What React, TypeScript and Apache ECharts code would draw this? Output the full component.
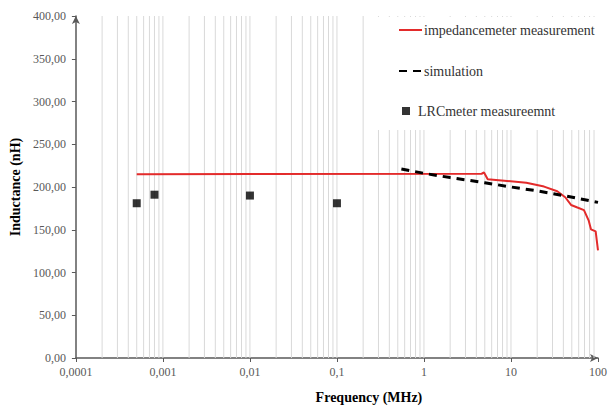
import React, { useEffect, useRef } from "react";
import * as echarts from "echarts";

const impFreq = [0.0005, 4.6, 4.9, 5.4, 9, 15, 24, 34, 42, 49, 58, 69, 78, 83, 94, 100];
const impValues = [215, 215.5, 217, 209, 207, 205, 200.5, 195, 188, 179, 176, 173, 161, 150.5, 148, 126];

const simFreq = [0.55, 1, 2, 5, 10, 20, 40, 60, 100];
const simValues = [221, 216, 211, 205, 200, 195.5, 190, 186.5, 182];

const lrcFreq = [0.0005, 0.0008, 0.01, 0.1];
const lrcValues = [181, 191, 190, 181];

const decades = [0.0001, 0.001, 0.01, 0.1, 1, 10];
const gridMultipliers = [1, 2, 3, 4, 5, 6, 7, 8, 9];

const NAME_IMP = "impedancemeter measurement";
const NAME_SIM = "simulation";
const NAME_LRC = "LRCmeter measureemnt";

const FONT = "'Liberation Serif', 'Times New Roman', serif";

function fmtX(v: number): string {
  const n = Number(v.toPrecision(6));
  return String(n).replace(".", ",");
}

export default function App() {
  const ref = useRef<HTMLDivElement>(null);
  useEffect(() => {
    if (!ref.current) return;
    const chart = echarts.init(ref.current, undefined, { renderer: "svg" });
    const gridFreqs: number[][] = [];
    decades.forEach((d) => {
      gridMultipliers.forEach((m) => {
        const v = Number((d * m).toPrecision(6));
        if (v > 0.0001 && v < 100) gridFreqs.push([v, 0]);
      });
    });
    chart.setOption({
      animation: false,
      backgroundColor: "#ffffff",
      grid: { left: 75, right: 9, top: 16, bottom: 52, containLabel: false },
      xAxis: {
        type: "log",
        logBase: 10,
        min: 0.0001,
        max: 100,
        name: "Frequency (MHz)",
        nameLocation: "middle",
        nameGap: 32,
        nameTextStyle: {
          fontFamily: FONT,
          fontWeight: "bold",
          fontSize: 14,
          color: "#000",
          padding: [0, 0, 0, 64],
        },
        axisLine: {
          show: true,
          lineStyle: { color: "#595959", width: 1.5 },
          symbol: ["none", "arrow"],
          symbolSize: [6, 8],
        },
        axisTick: { show: true, length: 4, lineStyle: { color: "#595959" } },
        axisLabel: {
          fontFamily: FONT,
          fontSize: 12,
          color: "#595959",
          margin: 8,
          formatter: (v: number) => fmtX(v),
        },
        splitLine: { show: false },
        minorTick: { show: false },
      },
      yAxis: {
        type: "value",
        min: 0,
        max: 400,
        interval: 50,
        name: "Inductance (nH)",
        nameLocation: "middle",
        nameGap: 52,
        nameTextStyle: {
          fontFamily: FONT,
          fontWeight: "bold",
          fontSize: 14,
          color: "#000",
        },
        axisLine: {
          show: true,
          lineStyle: { color: "#595959", width: 1.5 },
          symbol: ["none", "arrow"],
          symbolSize: [6, 8],
        },
        axisTick: { show: true, length: 4, lineStyle: { color: "#595959" } },
        axisLabel: {
          fontFamily: FONT,
          fontSize: 12,
          color: "#595959",
          margin: 10,
          formatter: (v: number) => v.toFixed(2).replace(".", ","),
        },
        splitLine: { show: false },
      },
      graphic: [
        {
          type: "rect",
          z: 3,
          shape: { x: 370, y: 17, width: 240, height: 113 },
          style: { fill: "#ffffff" },
          silent: true,
        },
      ],
      legend: [
        {
          z: 10,
          orient: "vertical",
          left: 393,
          top: 18,
          itemWidth: 23,
          itemHeight: 14,
          itemGap: 27,
          itemStyle: { opacity: 0 },
          data: [NAME_IMP, NAME_SIM],
          textStyle: { fontFamily: FONT, fontSize: 14, color: "#333333", padding: [0, 0, 0, -3] },
        },
        {
          z: 10,
          orient: "vertical",
          left: 397,
          top: 99,
          itemWidth: 8,
          itemHeight: 8,
          data: [NAME_LRC],
          textStyle: { fontFamily: FONT, fontSize: 14, color: "#333333", padding: [0, 0, 0, 3] },
        },
      ],
      series: [
        {
          name: "grid",
          type: "custom",
          z: 1,
          silent: true,
          clip: true,
          data: gridFreqs,
          renderItem: (_params: any, api: any) => {
            const v = api.value(0);
            const p1 = api.coord([v, 0]);
            const p2 = api.coord([v, 400]);
            return {
              type: "line",
              shape: { x1: p1[0], y1: p1[1], x2: p2[0], y2: p2[1] },
              style: { stroke: "#d9d9d9", lineWidth: 1 },
            };
          },
        },
        {
          name: NAME_IMP,
          type: "line",
          z: 5,
          symbol: "none",
          showSymbol: false,
          lineStyle: { color: "#e32b2b", width: 2 },
          itemStyle: { color: "#e32b2b" },
          data: impFreq.map((f, i) => [f, impValues[i]]),
        },
        {
          name: NAME_SIM,
          type: "line",
          z: 5,
          symbol: "none",
          showSymbol: false,
          lineStyle: { color: "#000000", width: 3, type: [8, 6] },
          itemStyle: { color: "#000000" },
          data: simFreq.map((f, i) => [f, simValues[i]]),
        },
        {
          name: NAME_LRC,
          type: "scatter",
          z: 6,
          symbol: "rect",
          symbolSize: 8,
          itemStyle: { color: "#000000" },
          data: lrcFreq.map((f, i) => [f, lrcValues[i]]),
        },
      ],
    });
    return () => chart.dispose();
  }, []);
  return <div ref={ref} style={{ width: 610, height: 410, position: "absolute", left: 0, top: 0 }} />;
}
